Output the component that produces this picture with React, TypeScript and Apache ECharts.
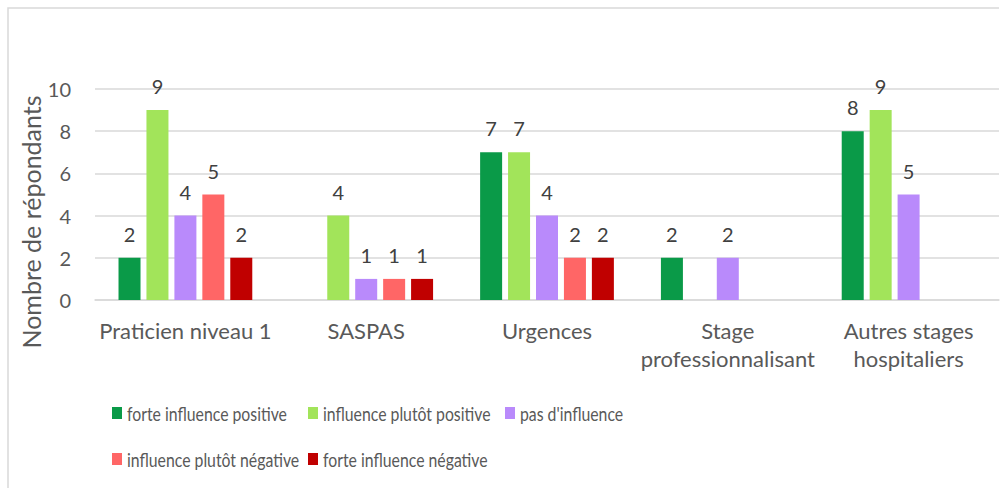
import React, { useEffect, useRef } from "react";
import * as echarts from "echarts";

const categories = [
  "Praticien niveau 1",
  "SASPAS",
  "Urgences",
  "Stage professionnalisant",
  "Autres stages hospitaliers",
];
const categoryLabels: Record<string, string> = {
  "Stage professionnalisant": "Stage\nprofessionnalisant",
  "Autres stages hospitaliers": "Autres stages\nhospitaliers",
};
const seriesNames = [
  "forte influence positive",
  "influence plutôt positive",
  "pas d'influence",
  "influence plutôt négative",
  "forte influence négative",
];
const fortePositive = [2, null, 7, 2, 8];
const plutotPositive = [9, 4, 7, null, 9];
const pasInfluence = [4, 1, 4, 2, 5];
const plutotNegative = [5, 1, 2, null, null];
const forteNegative = [2, 1, 2, null, null];
const seriesValues = [fortePositive, plutotPositive, pasInfluence, plutotNegative, forteNegative];
const colors = ["#0A9A48", "#A2E45A", "#B98AFB", "#FF6666", "#C00000"];
const yTicks = [0, 2, 4, 6, 8, 10];
const yAxisTitle = "Nombre de répondants";

const FONT = "Lato";
// legend layout (Excel-style grid: 3 columns, 2 rows)
const legendCols = [112, 308, 505];
const legendRows = [413, 459];

export default function App() {
  const ref = useRef<HTMLDivElement>(null);
  useEffect(() => {
    if (!ref.current) return;
    const chart = echarts.init(ref.current, undefined, { renderer: "svg" });
    const legendItems: any[] = [];
    seriesNames.forEach((n, i) => {
      const cx = legendCols[i % 3];
      const cy = legendRows[Math.floor(i / 3)];
      legendItems.push({
        type: "rect",
        shape: { x: cx, y: cy - 6, width: 10, height: 12 },
        style: { fill: colors[i] },
        silent: true,
      });
      legendItems.push({
        type: "text",
        x: cx + 15,
        y: cy,
        scaleX: 0.79,
        style: {
          text: n,
          fontFamily: FONT,
          fontSize: 20,
          fill: "#595959",
          align: "left",
          verticalAlign: "middle",
        },
        silent: true,
      });
    });
    chart.setOption({
      animation: false,
      backgroundColor: "#ffffff",
      textStyle: { fontFamily: FONT },
      grid: { left: 95, right: 8, top: 89, bottom: 188, containLabel: false },
      legend: { show: false, data: seriesNames },
      xAxis: {
        type: "category",
        data: categories,
        axisLine: { lineStyle: { color: "#D9D9D9", width: 1.5 } },
        axisTick: { show: false },
        axisLabel: {
          interval: 0,
          margin: 16,
          fontFamily: FONT,
          fontSize: 22,
          lineHeight: 28,
          color: "#595959",
          formatter: (v: string) => categoryLabels[v] || v,
        },
      },
      yAxis: {
        type: "value",
        min: yTicks[0],
        max: yTicks[yTicks.length - 1],
        interval: 2,
        axisLine: { show: false },
        axisTick: { show: false },
        axisLabel: { fontFamily: FONT, fontSize: 20, color: "#595959", margin: 24 },
        splitLine: { lineStyle: { color: "#D9D9D9", width: 1.5 } },
      },
      series: seriesNames.map((n, i) => ({
        name: n,
        type: "bar",
        data: seriesValues[i],
        barWidth: 22,
        barGap: "27%",
        itemStyle: { color: colors[i] },
        label: {
          show: true,
          position: "top",
          distance: 14,
          fontFamily: FONT,
          fontSize: 20,
          color: "#404040",
        },
      })),
      graphic: [
        {
          type: "polyline",
          shape: { points: [[8, 488], [8, 8], [999, 8]] },
          style: { stroke: "#D9D9D9", lineWidth: 1.5, fill: "none" },
          silent: true,
        },
        {
          type: "text",
          x: 31,
          y: 222,
          rotation: Math.PI / 2,
          style: {
            text: yAxisTitle,
            fontFamily: FONT,
            fontSize: 25,
            fill: "#595959",
            align: "center",
            verticalAlign: "middle",
          },
          silent: true,
        },
        ...legendItems,
      ],
    });
    return () => chart.dispose();
  }, []);
  return <div ref={ref} style={{ width: 1007, height: 488, position: "absolute", left: 0, top: 0 }} />;
}
